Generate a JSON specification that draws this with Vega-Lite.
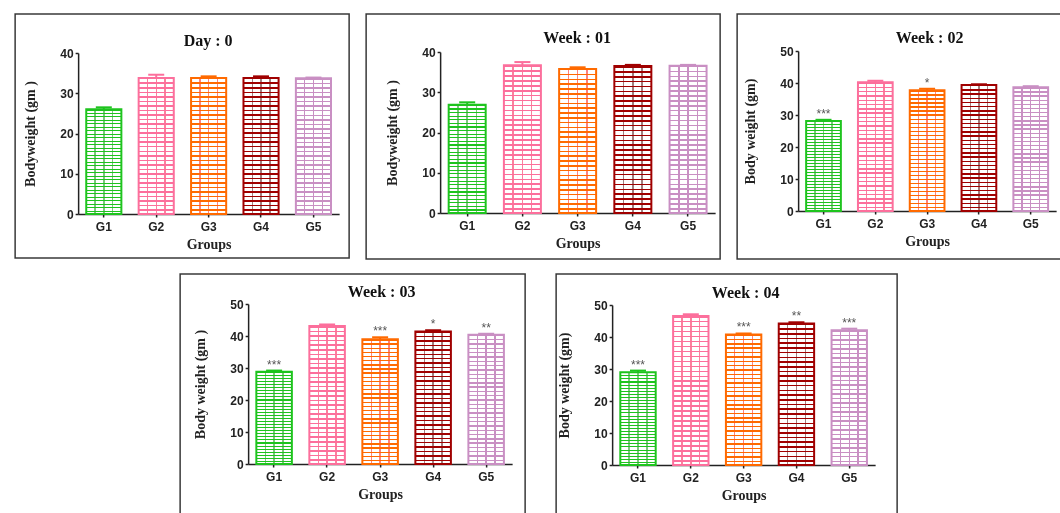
{
  "$schema": "https://vega.github.io/schema/vega-lite/v6.json",
  "background": "white",
  "padding": {"left": 14, "top": 13, "right": 0, "bottom": 0},
  "datasets": {
    "bw": [
      {"panel": "d0", "group": "G1", "mean": 26.0, "upper": 26.5, "sig": ""},
      {"panel": "d0", "group": "G2", "mean": 33.8, "upper": 34.6, "sig": ""},
      {"panel": "d0", "group": "G3", "mean": 33.8, "upper": 34.2, "sig": ""},
      {"panel": "d0", "group": "G4", "mean": 33.8, "upper": 34.2, "sig": ""},
      {"panel": "d0", "group": "G5", "mean": 33.7, "upper": 33.9, "sig": ""},
      {"panel": "w1", "group": "G1", "mean": 26.9, "upper": 27.5, "sig": ""},
      {"panel": "w1", "group": "G2", "mean": 36.7, "upper": 37.5, "sig": ""},
      {"panel": "w1", "group": "G3", "mean": 35.8, "upper": 36.2, "sig": ""},
      {"panel": "w1", "group": "G4", "mean": 36.5, "upper": 36.8, "sig": ""},
      {"panel": "w1", "group": "G5", "mean": 36.6, "upper": 36.8, "sig": ""},
      {"panel": "w2", "group": "G1", "mean": 28.1, "upper": 28.5, "sig": "***"},
      {"panel": "w2", "group": "G2", "mean": 40.2, "upper": 40.7, "sig": ""},
      {"panel": "w2", "group": "G3", "mean": 37.7, "upper": 38.2, "sig": "*"},
      {"panel": "w2", "group": "G4", "mean": 39.4, "upper": 39.6, "sig": ""},
      {"panel": "w2", "group": "G5", "mean": 38.7, "upper": 39.0, "sig": ""},
      {"panel": "w3", "group": "G1", "mean": 28.8, "upper": 29.2, "sig": "***"},
      {"panel": "w3", "group": "G2", "mean": 43.1, "upper": 43.6, "sig": ""},
      {"panel": "w3", "group": "G3", "mean": 39.0, "upper": 39.6, "sig": "***"},
      {"panel": "w3", "group": "G4", "mean": 41.4, "upper": 41.8, "sig": "*"},
      {"panel": "w3", "group": "G5", "mean": 40.4, "upper": 40.7, "sig": "**"},
      {"panel": "w4", "group": "G1", "mean": 29.0, "upper": 29.5, "sig": "***"},
      {"panel": "w4", "group": "G2", "mean": 46.6, "upper": 47.1, "sig": ""},
      {"panel": "w4", "group": "G3", "mean": 40.8, "upper": 41.1, "sig": "***"},
      {"panel": "w4", "group": "G4", "mean": 44.2, "upper": 44.6, "sig": "**"},
      {"panel": "w4", "group": "G5", "mean": 42.1, "upper": 42.6, "sig": "***"}
    ]
  },
  "center": true,
  "spacing": 13,
  "vconcat": [
    {
      "spacing": 15,
      "hconcat": [
        {
          "width": 334, "height": 244,
          "data": {"name": "bw"},
          "transform": [{"filter": "datum.panel === 'd0'"}],
          "title": {"text": "Day : 0", "dx": 26, "offset": -35},
          "encoding": {
            "x": {"field": "group", "type": "nominal", "scale": {"range": [63, 324], "paddingInner": 0.33, "paddingOuter": 0.155}, "axis": {"title": "Groups", "offset": -44}},
            "y": {"field": "mean", "type": "quantitative", "title": "Bodyweight (gm )", "scale": {"domain": [0, 40], "range": [200, 39]}, "axis": {"offset": -63, "values": [0, 10, 20, 30, 40]}}
          },
          "layer": [
            {"mark": {"type": "bar", "style": "hmask"}},
            {"mark": {"type": "bar", "style": "vmask", "blend": "multiply"}},
            {"mark": {"type": "bar", "blend": "lighten"}, "encoding": {"fill": {"field": "group", "type": "nominal", "legend": null}}},
            {"mark": {"type": "bar", "fillOpacity": 0, "strokeWidth": 2}, "encoding": {"stroke": {"field": "group", "type": "nominal", "legend": null}}},
            {"mark": {"type": "rule", "strokeWidth": 2}, "encoding": {"y2": {"field": "upper"}, "stroke": {"field": "group", "type": "nominal", "legend": null}}},
            {"mark": {"type": "tick", "thickness": 2, "size": 16, "opacity": 1}, "encoding": {"y": {"field": "upper", "type": "quantitative", "title": "Bodyweight (gm )"}, "color": {"field": "group", "type": "nominal", "legend": null}}},
            {"mark": {"type": "text", "baseline": "alphabetic", "dy": -2, "fontSize": 12, "color": "#555", "font": "Liberation Sans"}, "encoding": {"y": {"field": "upper", "type": "quantitative", "title": "Bodyweight (gm )"}, "text": {"field": "sig"}}}
          ]
        },
        {
          "width": 354, "height": 245,
          "data": {"name": "bw"},
          "transform": [{"filter": "datum.panel === 'w1'"}],
          "title": {"text": "Week : 01", "dx": 34, "offset": -32},
          "encoding": {
            "x": {"field": "group", "type": "nominal", "scale": {"range": [74, 349], "paddingInner": 0.33, "paddingOuter": 0.155}, "axis": {"title": "Groups", "offset": -46}},
            "y": {"field": "mean", "type": "quantitative", "title": "Bodyweight (gm )", "scale": {"domain": [0, 40], "range": [199, 38]}, "axis": {"offset": -74, "values": [0, 10, 20, 30, 40]}}
          },
          "layer": [
            {"mark": {"type": "bar", "style": "hmask"}},
            {"mark": {"type": "bar", "style": "vmask", "blend": "multiply"}},
            {"mark": {"type": "bar", "blend": "lighten"}, "encoding": {"fill": {"field": "group", "type": "nominal", "legend": null}}},
            {"mark": {"type": "bar", "fillOpacity": 0, "strokeWidth": 2}, "encoding": {"stroke": {"field": "group", "type": "nominal", "legend": null}}},
            {"mark": {"type": "rule", "strokeWidth": 2}, "encoding": {"y2": {"field": "upper"}, "stroke": {"field": "group", "type": "nominal", "legend": null}}},
            {"mark": {"type": "tick", "thickness": 2, "size": 16, "opacity": 1}, "encoding": {"y": {"field": "upper", "type": "quantitative", "title": "Bodyweight (gm )"}, "color": {"field": "group", "type": "nominal", "legend": null}}},
            {"mark": {"type": "text", "baseline": "alphabetic", "dy": -2, "fontSize": 12, "color": "#555", "font": "Liberation Sans"}, "encoding": {"y": {"field": "upper", "type": "quantitative", "title": "Bodyweight (gm )"}, "text": {"field": "sig"}}}
          ]
        },
        {
          "width": 325, "height": 245,
          "data": {"name": "bw"},
          "transform": [{"filter": "datum.panel === 'w2'"}],
          "title": {"text": "Week : 02", "dx": 30, "offset": -32},
          "encoding": {
            "x": {"field": "group", "type": "nominal", "scale": {"range": [61, 319], "paddingInner": 0.33, "paddingOuter": 0.155}, "axis": {"title": "Groups", "offset": -48}},
            "y": {"field": "mean", "type": "quantitative", "title": "Body weight (gm)", "scale": {"domain": [0, 50], "range": [197, 37]}, "axis": {"offset": -61, "values": [0, 10, 20, 30, 40, 50]}}
          },
          "layer": [
            {"mark": {"type": "bar", "style": "hmask"}},
            {"mark": {"type": "bar", "style": "vmask", "blend": "multiply"}},
            {"mark": {"type": "bar", "blend": "lighten"}, "encoding": {"fill": {"field": "group", "type": "nominal", "legend": null}}},
            {"mark": {"type": "bar", "fillOpacity": 0, "strokeWidth": 2}, "encoding": {"stroke": {"field": "group", "type": "nominal", "legend": null}}},
            {"mark": {"type": "rule", "strokeWidth": 2}, "encoding": {"y2": {"field": "upper"}, "stroke": {"field": "group", "type": "nominal", "legend": null}}},
            {"mark": {"type": "tick", "thickness": 2, "size": 16, "opacity": 1}, "encoding": {"y": {"field": "upper", "type": "quantitative", "title": "Body weight (gm)"}, "color": {"field": "group", "type": "nominal", "legend": null}}},
            {"mark": {"type": "text", "baseline": "alphabetic", "dy": -2, "fontSize": 12, "color": "#555", "font": "Liberation Sans"}, "encoding": {"y": {"field": "upper", "type": "quantitative", "title": "Body weight (gm)"}, "text": {"field": "sig"}}}
          ]
        }
      ]
    },
    {
      "spacing": 29,
      "hconcat": [
        {
          "width": 345, "height": 244,
          "data": {"name": "bw"},
          "transform": [{"filter": "datum.panel === 'w3'"}],
          "title": {"text": "Week : 03", "dx": 29, "offset": -26},
          "encoding": {
            "x": {"field": "group", "type": "nominal", "scale": {"range": [68, 332], "paddingInner": 0.33, "paddingOuter": 0.155}, "axis": {"title": "Groups", "offset": -54}},
            "y": {"field": "mean", "type": "quantitative", "title": "Body weight (gm )", "scale": {"domain": [0, 50], "range": [190, 30]}, "axis": {"offset": -68, "values": [0, 10, 20, 30, 40, 50]}}
          },
          "layer": [
            {"mark": {"type": "bar", "style": "hmask"}},
            {"mark": {"type": "bar", "style": "vmask", "blend": "multiply"}},
            {"mark": {"type": "bar", "blend": "lighten"}, "encoding": {"fill": {"field": "group", "type": "nominal", "legend": null}}},
            {"mark": {"type": "bar", "fillOpacity": 0, "strokeWidth": 2}, "encoding": {"stroke": {"field": "group", "type": "nominal", "legend": null}}},
            {"mark": {"type": "rule", "strokeWidth": 2}, "encoding": {"y2": {"field": "upper"}, "stroke": {"field": "group", "type": "nominal", "legend": null}}},
            {"mark": {"type": "tick", "thickness": 2, "size": 16, "opacity": 1}, "encoding": {"y": {"field": "upper", "type": "quantitative", "title": "Body weight (gm )"}, "color": {"field": "group", "type": "nominal", "legend": null}}},
            {"mark": {"type": "text", "baseline": "alphabetic", "dy": -2, "fontSize": 12, "color": "#555", "font": "Liberation Sans"}, "encoding": {"y": {"field": "upper", "type": "quantitative", "title": "Body weight (gm )"}, "text": {"field": "sig"}}}
          ]
        },
        {
          "width": 341, "height": 244,
          "data": {"name": "bw"},
          "transform": [{"filter": "datum.panel === 'w4'"}],
          "title": {"text": "Week : 04", "dx": 19, "offset": -27},
          "encoding": {
            "x": {"field": "group", "type": "nominal", "scale": {"range": [56, 319], "paddingInner": 0.33, "paddingOuter": 0.155}, "axis": {"title": "Groups", "offset": -53}},
            "y": {"field": "mean", "type": "quantitative", "title": "Body weight (gm)", "scale": {"domain": [0, 50], "range": [191, 31]}, "axis": {"offset": -56, "values": [0, 10, 20, 30, 40, 50]}}
          },
          "layer": [
            {"mark": {"type": "bar", "style": "hmask"}},
            {"mark": {"type": "bar", "style": "vmask", "blend": "multiply"}},
            {"mark": {"type": "bar", "blend": "lighten"}, "encoding": {"fill": {"field": "group", "type": "nominal", "legend": null}}},
            {"mark": {"type": "bar", "fillOpacity": 0, "strokeWidth": 2}, "encoding": {"stroke": {"field": "group", "type": "nominal", "legend": null}}},
            {"mark": {"type": "rule", "strokeWidth": 2}, "encoding": {"y2": {"field": "upper"}, "stroke": {"field": "group", "type": "nominal", "legend": null}}},
            {"mark": {"type": "tick", "thickness": 2, "size": 16, "opacity": 1}, "encoding": {"y": {"field": "upper", "type": "quantitative", "title": "Body weight (gm)"}, "color": {"field": "group", "type": "nominal", "legend": null}}},
            {"mark": {"type": "text", "baseline": "alphabetic", "dy": -2, "fontSize": 12, "color": "#555", "font": "Liberation Sans"}, "encoding": {"y": {"field": "upper", "type": "quantitative", "title": "Body weight (gm)"}, "text": {"field": "sig"}}}
          ]
        }
      ]
    }
  ],
  "config": {
    "view": {"stroke": "#3a3a3a", "strokeWidth": 1.5},
    "range": {"category": ["#1ec41e", "#fc6f9c", "#ff6a00", "#a00000", "#c98fc3"]},
    "title": {"font": "Liberation Serif", "fontSize": 16, "fontWeight": "bold", "color": "#111", "anchor": "middle", "frame": "group", "baseline": "middle", "orient": "top"},
    "axis": {
      "grid": false,
      "domainColor": "#222", "domainWidth": 1.5,
      "tickColor": "#222", "tickWidth": 1.5, "tickSize": 3,
      "labelFont": "Liberation Sans", "labelFontSize": 12, "labelFontWeight": "bold", "labelColor": "#222",
      "titleFont": "Liberation Serif", "titleFontSize": 14, "titleFontWeight": "bold", "titleColor": "#222"
    },
    "axisX": {"labelAngle": 0, "labelPadding": 4, "titlePadding": 5},
    "axisY": {"labelPadding": 2, "titlePadding": 22},
    "style": {
      "hmask": {"color": {"gradient": "linear", "x1": 0, "y1": 0, "x2": 0, "y2": 1, "stops": [
        {"offset": 0, "color": "#000"}, {"offset": 0.011, "color": "#000"}, {"offset": 0.011, "color": "#fff"}, {"offset": 0.0333, "color": "#fff"},
        {"offset": 0.0333, "color": "#000"}, {"offset": 0.0443, "color": "#000"}, {"offset": 0.0443, "color": "#fff"}, {"offset": 0.0667, "color": "#fff"},
        {"offset": 0.0667, "color": "#000"}, {"offset": 0.0777, "color": "#000"}, {"offset": 0.0777, "color": "#fff"}, {"offset": 0.1, "color": "#fff"},
        {"offset": 0.1, "color": "#000"}, {"offset": 0.111, "color": "#000"}, {"offset": 0.111, "color": "#fff"}, {"offset": 0.1333, "color": "#fff"},
        {"offset": 0.1333, "color": "#000"}, {"offset": 0.1443, "color": "#000"}, {"offset": 0.1443, "color": "#fff"}, {"offset": 0.1667, "color": "#fff"},
        {"offset": 0.1667, "color": "#000"}, {"offset": 0.1777, "color": "#000"}, {"offset": 0.1777, "color": "#fff"}, {"offset": 0.2, "color": "#fff"},
        {"offset": 0.2, "color": "#000"}, {"offset": 0.211, "color": "#000"}, {"offset": 0.211, "color": "#fff"}, {"offset": 0.2333, "color": "#fff"},
        {"offset": 0.2333, "color": "#000"}, {"offset": 0.2443, "color": "#000"}, {"offset": 0.2443, "color": "#fff"}, {"offset": 0.2667, "color": "#fff"},
        {"offset": 0.2667, "color": "#000"}, {"offset": 0.2777, "color": "#000"}, {"offset": 0.2777, "color": "#fff"}, {"offset": 0.3, "color": "#fff"},
        {"offset": 0.3, "color": "#000"}, {"offset": 0.311, "color": "#000"}, {"offset": 0.311, "color": "#fff"}, {"offset": 0.3333, "color": "#fff"},
        {"offset": 0.3333, "color": "#000"}, {"offset": 0.3443, "color": "#000"}, {"offset": 0.3443, "color": "#fff"}, {"offset": 0.3667, "color": "#fff"},
        {"offset": 0.3667, "color": "#000"}, {"offset": 0.3777, "color": "#000"}, {"offset": 0.3777, "color": "#fff"}, {"offset": 0.4, "color": "#fff"},
        {"offset": 0.4, "color": "#000"}, {"offset": 0.411, "color": "#000"}, {"offset": 0.411, "color": "#fff"}, {"offset": 0.4333, "color": "#fff"},
        {"offset": 0.4333, "color": "#000"}, {"offset": 0.4443, "color": "#000"}, {"offset": 0.4443, "color": "#fff"}, {"offset": 0.4667, "color": "#fff"},
        {"offset": 0.4667, "color": "#000"}, {"offset": 0.4777, "color": "#000"}, {"offset": 0.4777, "color": "#fff"}, {"offset": 0.5, "color": "#fff"},
        {"offset": 0.5, "color": "#000"}, {"offset": 0.511, "color": "#000"}, {"offset": 0.511, "color": "#fff"}, {"offset": 0.5333, "color": "#fff"},
        {"offset": 0.5333, "color": "#000"}, {"offset": 0.5443, "color": "#000"}, {"offset": 0.5443, "color": "#fff"}, {"offset": 0.5667, "color": "#fff"},
        {"offset": 0.5667, "color": "#000"}, {"offset": 0.5777, "color": "#000"}, {"offset": 0.5777, "color": "#fff"}, {"offset": 0.6, "color": "#fff"},
        {"offset": 0.6, "color": "#000"}, {"offset": 0.611, "color": "#000"}, {"offset": 0.611, "color": "#fff"}, {"offset": 0.6333, "color": "#fff"},
        {"offset": 0.6333, "color": "#000"}, {"offset": 0.6443, "color": "#000"}, {"offset": 0.6443, "color": "#fff"}, {"offset": 0.6667, "color": "#fff"},
        {"offset": 0.6667, "color": "#000"}, {"offset": 0.6777, "color": "#000"}, {"offset": 0.6777, "color": "#fff"}, {"offset": 0.7, "color": "#fff"},
        {"offset": 0.7, "color": "#000"}, {"offset": 0.711, "color": "#000"}, {"offset": 0.711, "color": "#fff"}, {"offset": 0.7333, "color": "#fff"},
        {"offset": 0.7333, "color": "#000"}, {"offset": 0.7443, "color": "#000"}, {"offset": 0.7443, "color": "#fff"}, {"offset": 0.7667, "color": "#fff"},
        {"offset": 0.7667, "color": "#000"}, {"offset": 0.7777, "color": "#000"}, {"offset": 0.7777, "color": "#fff"}, {"offset": 0.8, "color": "#fff"},
        {"offset": 0.8, "color": "#000"}, {"offset": 0.811, "color": "#000"}, {"offset": 0.811, "color": "#fff"}, {"offset": 0.8333, "color": "#fff"},
        {"offset": 0.8333, "color": "#000"}, {"offset": 0.8443, "color": "#000"}, {"offset": 0.8443, "color": "#fff"}, {"offset": 0.8667, "color": "#fff"},
        {"offset": 0.8667, "color": "#000"}, {"offset": 0.8777, "color": "#000"}, {"offset": 0.8777, "color": "#fff"}, {"offset": 0.9, "color": "#fff"},
        {"offset": 0.9, "color": "#000"}, {"offset": 0.911, "color": "#000"}, {"offset": 0.911, "color": "#fff"}, {"offset": 0.9333, "color": "#fff"},
        {"offset": 0.9333, "color": "#000"}, {"offset": 0.9443, "color": "#000"}, {"offset": 0.9443, "color": "#fff"}, {"offset": 0.9667, "color": "#fff"},
        {"offset": 0.9667, "color": "#000"}, {"offset": 0.9777, "color": "#000"}, {"offset": 0.9777, "color": "#fff"}, {"offset": 1, "color": "#fff"}
      ]}},
      "vmask": {"color": {"gradient": "linear", "x1": 0, "y1": 0, "x2": 1, "y2": 0, "stops": [
        {"offset": 0, "color": "#fff"}, {"offset": 0.23, "color": "#fff"}, {"offset": 0.23, "color": "#808080"}, {"offset": 0.27, "color": "#808080"},
        {"offset": 0.27, "color": "#fff"}, {"offset": 0.48, "color": "#fff"}, {"offset": 0.48, "color": "#808080"}, {"offset": 0.52, "color": "#808080"},
        {"offset": 0.52, "color": "#fff"}, {"offset": 0.73, "color": "#fff"}, {"offset": 0.73, "color": "#808080"}, {"offset": 0.77, "color": "#808080"},
        {"offset": 0.77, "color": "#fff"}, {"offset": 1, "color": "#fff"}
      ]}}
    }
  }
}
